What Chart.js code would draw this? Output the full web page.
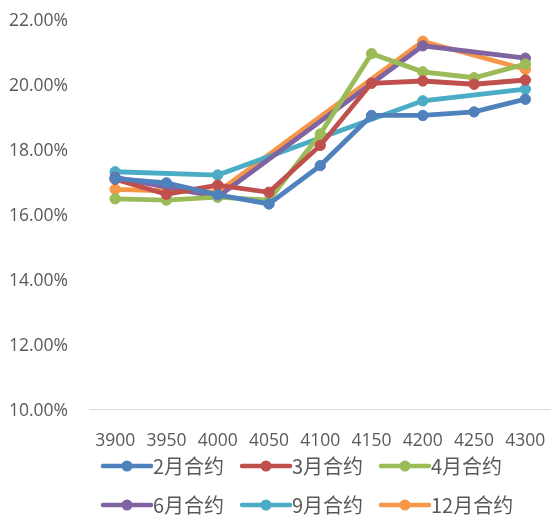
<!DOCTYPE html>
<html>
<head>
<meta charset="utf-8">
<script src="https://cdn.jsdelivr.net/npm/chart.js@4/dist/chart.umd.min.js"></script>
<style>
  html, body { margin: 0; padding: 0; background: #ffffff; }
  #wrap { width: 551px; height: 516px; overflow: hidden; }
</style>
</head>
<body>
<div id="wrap"><canvas id="c" width="551" height="516"></canvas></div>
<script>
const categories = ['3900', '3950', '4000', '4050', '4100', '4150', '4200', '4250', '4300'];
const seriesNames = ['2月合约', '3月合约', '4月合约', '6月合约', '9月合约', '12月合约'];
const feb = [17.08, 16.95, 16.58, 16.30, 17.48, 19.02, 19.02, 19.13, 19.52];
const mar = [17.06, 16.60, 16.88, 16.66, 18.10, 20.01, 20.08, 19.98, 20.11];
const apr = [16.46, 16.42, 16.51, 16.42, 18.45, 20.92, 20.36, 20.18, 20.60];
const jun = [17.12, null, 16.52, null, null, null, 21.16, null, 20.78];
const sep = [17.29, null, 17.19, null, null, null, 19.47, null, 19.83];
const dec = [16.75, null, 16.66, null, null, null, 21.30, null, 20.44];
const yTicks = [10, 12, 14, 16, 18, 20, 22];

const colors = ['#4F81BD', '#C0504D', '#9BBB59', '#8064A2', '#4BACC6', '#F79646'];
const seriesValues = [feb, mar, apr, jun, sep, dec];

const datasets = seriesValues.map((vals, i) => ({
  label: seriesNames[i],
  data: vals,
  borderColor: colors[i],
  backgroundColor: colors[i],
  pointBackgroundColor: colors[i],
  pointBorderColor: colors[i],
  borderWidth: 4.8,
  pointRadius: 5.2,
  pointBorderWidth: 1,
  tension: 0,
  spanGaps: true,
  fill: false,
  clip: false
}));

const legendPlugin = {
  id: 'customLegend',
  afterDraw(chart) {
    const ctx = chart.ctx;
    const cols = [103, 242, 381];
    const rows = [466, 505];
    ctx.save();
    chart.data.datasets.forEach((ds, i) => {
      const x = cols[i % 3];
      const y = rows[Math.floor(i / 3)];
      ctx.strokeStyle = ds.borderColor;
      ctx.lineWidth = 4.5;
      ctx.lineCap = 'round';
      ctx.beginPath();
      ctx.moveTo(x, y);
      ctx.lineTo(x + 48, y);
      ctx.stroke();
      ctx.fillStyle = ds.borderColor;
      ctx.beginPath();
      ctx.arc(x + 24, y, 5.5, 0, Math.PI * 2);
      ctx.fill();
      ctx.fillStyle = '#595959';
      ctx.font = '20px "Noto Sans CJK SC", "Open Sans", sans-serif';
      ctx.textBaseline = 'middle';
      ctx.textAlign = 'left';
      ctx.fillText(ds.label, x + 50, y);
    });
    ctx.restore();
  }
};

function zeroPad(s) {
  s.paddingTop = 0; s.paddingBottom = 0; s.paddingLeft = 0; s.paddingRight = 0;
}

new Chart(document.getElementById('c'), {
  type: 'line',
  data: { labels: categories, datasets: datasets },
  options: {
    responsive: false,
    animation: false,
    devicePixelRatio: 1,
    layout: { autoPadding: false, padding: { top: 18.5, right: -2, bottom: 0, left: 0 } },
    plugins: { legend: { display: false }, tooltip: { enabled: false } },
    scales: {
      x: {
        offset: true,
        grid: { display: false, drawTicks: false },
        border: { display: true, color: '#D9D9D9', width: 1 },
        ticks: {
          color: '#595959',
          font: { family: '"Open Sans", sans-serif', size: 17.5 },
          padding: 22,
          maxRotation: 0,
          autoSkip: false
        },
        afterFit: (s) => { s.height = 107; zeroPad(s); }
      },
      y: {
        min: 10,
        max: 22,
        afterBuildTicks: (s) => { s.ticks = yTicks.map(v => ({ value: v })); },
        grid: { display: false, drawTicks: false },
        border: { display: false },
        ticks: {
          color: '#595959',
          font: { family: '"Open Sans", sans-serif', size: 17.5 },
          padding: 21.5,
          labelOffset: 2.5,
          callback: (v) => Number(v).toFixed(2) + '%'
        },
        afterFit: (s) => { s.width = 89.5; zeroPad(s); }
      }
    }
  },
  plugins: [legendPlugin]
});
</script>
</body>
</html>
